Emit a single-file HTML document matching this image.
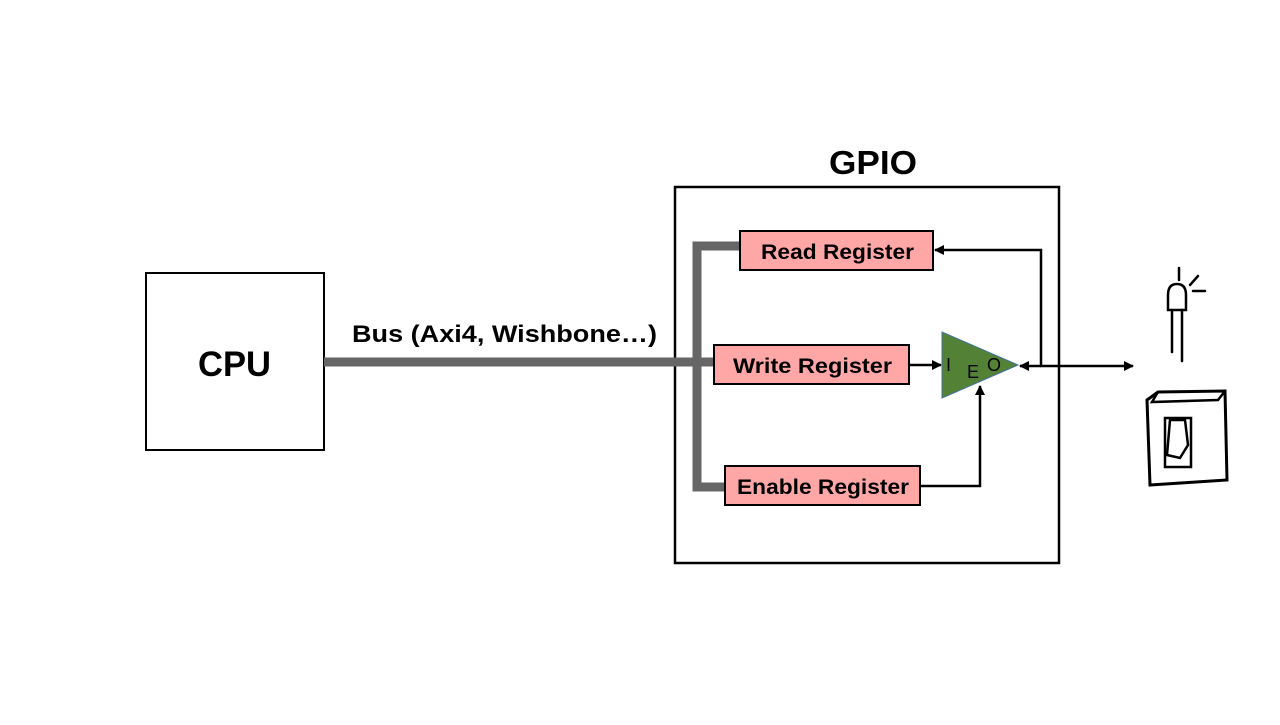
<!DOCTYPE html>
<html><head><style>
body{margin:0;background:#fff;}
svg text{font-family:"Liberation Sans",sans-serif;}
</style></head><body>
<svg width="1280" height="720" xmlns="http://www.w3.org/2000/svg">
<defs>
<marker id="a" markerWidth="10" markerHeight="10" refX="9" refY="5" orient="auto" markerUnits="userSpaceOnUse"><path d="M0,0 L10,5 L0,10 z" fill="#000"/></marker>
</defs>
<rect width="1280" height="720" fill="#fff"/>
<rect x="146" y="273" width="178" height="177" fill="#fff" stroke="#000" stroke-width="2"/>
<text x="198" y="376" font-size="35" font-weight="bold" textLength="73" lengthAdjust="spacingAndGlyphs">CPU</text>
<text x="352" y="342" font-size="24" font-weight="bold" textLength="305" lengthAdjust="spacingAndGlyphs">Bus (Axi4, Wishbone…)</text>
<rect x="675" y="187" width="384" height="376" fill="#fff" stroke="#000" stroke-width="2.5"/>
<text x="829" y="174" font-size="33" font-weight="bold" textLength="88" lengthAdjust="spacingAndGlyphs">GPIO</text>
<g stroke="#666" stroke-width="9" fill="none">
<line x1="324" y1="362" x2="716" y2="362"/>
<polyline points="742,246 697,246 697,487 727,487"/>
</g>
<rect x="740" y="231" width="193" height="39" fill="#ffa6a6" stroke="#000" stroke-width="2"/>
<text x="761" y="259" font-size="21" font-weight="bold" textLength="153" lengthAdjust="spacingAndGlyphs">Read Register</text>
<rect x="714" y="345" width="195" height="39" fill="#ffa6a6" stroke="#000" stroke-width="2"/>
<text x="733" y="373" font-size="21" font-weight="bold" textLength="159" lengthAdjust="spacingAndGlyphs">Write Register</text>
<rect x="725" y="466" width="195" height="39" fill="#ffa6a6" stroke="#000" stroke-width="2"/>
<text x="737" y="494" font-size="21" font-weight="bold" textLength="172" lengthAdjust="spacingAndGlyphs">Enable Register</text>
<polygon points="942,332 942,398 1018,365" fill="#538135" stroke="#41719c" stroke-width="1"/>
<text x="946" y="371" font-size="18">I</text>
<text x="967" y="378" font-size="18">E</text>
<text x="987" y="371" font-size="18">O</text>
<g stroke="#000" stroke-width="2.5" fill="none">
<line x1="909" y1="365" x2="941" y2="365" marker-end="url(#a)"/>
<polyline points="920,486 980,486 980,386" marker-end="url(#a)"/>
<line x1="1041" y1="366" x2="1020" y2="366" marker-end="url(#a)"/>
<polyline points="1041,366 1041,250 935,250" marker-end="url(#a)"/>
<line x1="1040" y1="366" x2="1133" y2="366" marker-end="url(#a)"/>
</g>
<g stroke="#000" stroke-width="2.5" fill="none" stroke-linecap="round">
<line x1="1179" y1="268" x2="1179" y2="280"/>
<line x1="1190" y1="285" x2="1198" y2="276"/>
<line x1="1193" y1="291" x2="1205" y2="291"/>
<path d="M1168,310 L1168,295 Q1168,284 1177,284 Q1186,284 1186,295 L1186,310 Z"/>
<line x1="1172" y1="310" x2="1172" y2="352"/>
<line x1="1182" y1="310" x2="1182" y2="361"/>
<path d="M1147,400 L1158,392 L1225,391 L1227,480 L1150,485 Z" stroke-width="3"/>
<path d="M1158,392 L1152,402 L1218,400 L1225,391"/>
<rect x="1165" y="418" width="26" height="49"/>
<path d="M1170,420 L1185,420 L1188,445 L1180,458 L1167,455 Z"/>
</g>
</svg>
</body></html>
